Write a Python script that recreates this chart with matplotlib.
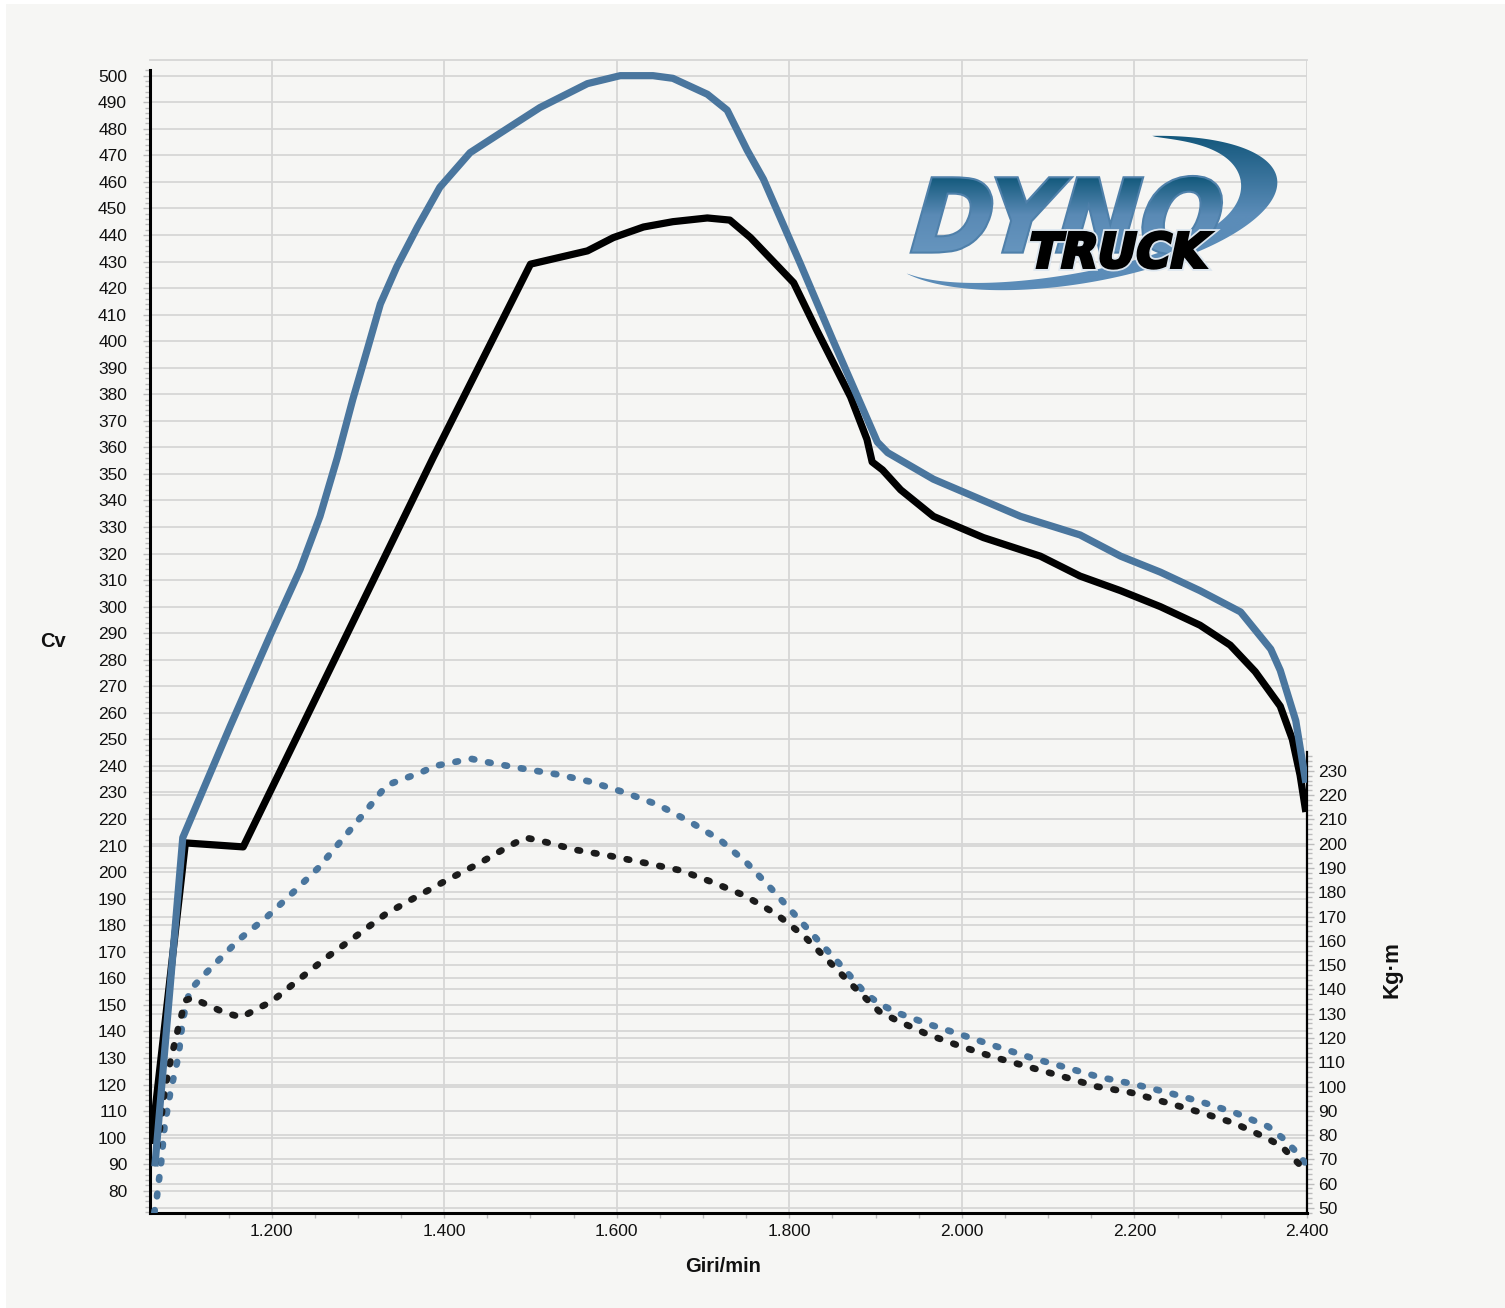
import matplotlib.pyplot as plt
import numpy as np
from matplotlib.patches import Rectangle, Polygon, PathPatch
from matplotlib.textpath import TextPath
from matplotlib.font_manager import FontProperties
from matplotlib.transforms import Affine2D
from matplotlib.ticker import MultipleLocator, FixedLocator
from matplotlib.colors import LinearSegmentedColormap

plt.rcParams['font.family'] = ['Liberation Sans', 'DejaVu Sans']

# Power [Cv] - blue curve
rpm_a = [1065, 1097, 1152, 1198, 1233, 1256, 1276, 1294, 1311, 1326, 1345,
         1369, 1395, 1430, 1468, 1511, 1566, 1604, 1642, 1665, 1705,
         1728, 1751, 1770, 1813, 1851, 1902, 1914, 1967, 2068, 2137,
         2184, 2230, 2276, 2323, 2358, 2369, 2387, 2398]
cv_a = [90.5, 213, 255, 289, 314, 334, 356, 378, 397, 414, 428,
        443, 458, 471, 479, 488, 497, 500, 500, 499, 493,
        487, 472, 461, 429, 400, 362, 358, 348, 334, 327,
        319, 313, 306, 298, 284, 276, 257, 235]

# Power [Cv] - black curve
rpm_b = [1061, 1100, 1167, 1387, 1500, 1566, 1596, 1631, 1665, 1705,
         1731, 1755, 1805, 1832, 1871, 1890, 1896, 1908, 1929, 1967,
         2025, 2091, 2137, 2184, 2230, 2276, 2311, 2340, 2369, 2383,
         2392, 2398]
cv_b = [99, 211, 209.5, 356, 429, 434, 439, 443, 445, 446.4,
        445.6, 439, 422, 404, 379, 363, 354.5, 351.5, 344, 334,
        326, 319, 311.5, 306, 300, 293, 285.5, 275.5, 262.5, 250,
        236.5, 224]

# Torque [Kg·m] - blue dotted
rpm_ta = [1064, 1067, 1072, 1076, 1083, 1092, 1097, 1105, 1119, 1133,
          1162, 1195, 1225, 1254, 1280, 1307, 1333, 1351, 1371, 1389,
          1410, 1431, 1451, 1490, 1532, 1570, 1610, 1648, 1685, 1720,
          1751, 1779, 1807, 1835, 1862, 1889, 1905, 1924, 1963, 2002,
          2040, 2079, 2119, 2158, 2199, 2239, 2279, 2318, 2355, 2371,
          2385, 2398]
kgm_a = [48, 54.5, 69, 84, 98.5, 112.5, 127.5, 139.5, 145, 150,
         160.5, 170, 180, 190, 201, 212.5, 224, 226.5, 229, 232,
         233.5, 235, 233.5, 231, 228.5, 225.5, 221, 216, 209, 201.5,
         192, 181.5, 170.5, 159.5, 149, 138, 134, 130.5, 125.5, 121,
         116.5, 112, 108, 104, 101, 97.5, 93.5, 89, 83.5, 79,
         74, 68.5]

# Torque [Kg·m] - black dotted
rpm_tb = [1065, 1071, 1076, 1083, 1092, 1100, 1108, 1126, 1145, 1165,
          1183, 1200, 1233, 1265, 1298, 1332, 1367, 1403, 1441, 1475,
          1494, 1514, 1552, 1592, 1634, 1674, 1712, 1749, 1785, 1817,
          1846, 1875, 1904, 1923, 1960, 1999, 2038, 2078, 2118, 2156,
          2196, 2236, 2275, 2315, 2352, 2370, 2384, 2398]
kgm_b = [68.5, 84, 98.5, 111, 124.5, 135.5, 136.5, 133.5, 130.5, 128.5,
         132, 135, 144.5, 153.5, 162, 171, 178, 185, 192, 199,
         202.5, 201, 197.5, 195, 192, 189, 184, 178.5, 171, 162,
         151.5, 141, 131, 127.5, 121.5, 116.5, 112, 108, 104, 100,
         97.5, 93.5, 89.5, 85, 79, 75.5, 70.5, 65.5]

x_ticks = [1200, 1400, 1600, 1800, 2000, 2200, 2400]
x_labels = ['1.200', '1.400', '1.600', '1.800', '2.000', '2.200', '2.400']
cv_ticks = list(range(80, 501, 10))
kgm_ticks = list(range(50, 231, 10))

W, H = 1505, 1308
BLUE = '#4a769e'
GRID = '#d6d6d6'
TICK = '#bcbcbc'

fig = plt.figure(figsize=(W / 100, H / 100), dpi=100, facecolor='white')
fig.patches.append(Rectangle((6 / W, 0), 1 - 6 / W, 1 - 4 / H,
                             transform=fig.transFigure, facecolor='#f6f6f4',
                             edgecolor='none', zorder=-1))

ax = fig.add_axes([150 / W, (H - 1213) / H, (1307 - 150) / W, (1213 - 60) / H])
ax2 = ax.twinx()
ax.set_zorder(2)
ax2.set_zorder(1)
ax.patch.set_visible(False)
ax2.patch.set_visible(False)

ax.set_xlim(1059, 2400)
ax.set_ylim(71.6, 505.9)
ax2.set_ylim(47.9, 522.8)

# torque curves on the right scale, but drawn in ax so grids stay below
dots = dict(lw=4.8, ls=(0, (0.4, 2.1)), dash_capstyle='round',
            transform=ax2.transData)
ax.plot(rpm_ta, kgm_a, color=BLUE, zorder=3, **dots)
ax.plot(rpm_tb, kgm_b, color='#1c1c1c', zorder=3.1, **dots)
ax.plot(rpm_b, cv_b, color='black', lw=5.2, solid_joinstyle='round', zorder=4)
ax.plot(rpm_a, cv_a, color=BLUE, lw=5.2, solid_joinstyle='round', zorder=5)

ax.set_xlim(1059, 2400)
ax.set_ylim(71.6, 505.9)

# ticks and grids
ax.set_xticks(x_ticks, x_labels)
ax.xaxis.set_minor_locator(MultipleLocator(50))
ax.set_yticks(cv_ticks)
ax.yaxis.set_minor_locator(FixedLocator(np.arange(72, 503, 2)))
ax.grid(True, which='major', color=GRID, lw=1.3)
ax2.set_yticks(kgm_ticks)
ax2.yaxis.set_minor_locator(FixedLocator(np.arange(48, 238, 2)))
ax2.grid(True, axis='y', which='major', color=GRID, lw=1.3)

ax.tick_params(axis='y', which='major', length=5, width=1, color=TICK,
               labelsize=12.5, pad=11.5, labelcolor='#111111')
ax.tick_params(axis='y', which='minor', length=3.5, width=1, color=TICK)
ax.tick_params(axis='x', which='both', length=3.6, width=1, color=TICK,
               labelsize=12.5, pad=4, labelcolor='#111111')
ax2.tick_params(axis='y', which='major', length=5, width=1, color=TICK,
                labelsize=12.5, pad=3, labelcolor='#111111')
ax2.tick_params(axis='y', which='minor', length=3.5, width=1, color=TICK)

for s in ['left', 'bottom']:
    ax.spines[s].set_color('black')
    ax.spines[s].set_linewidth(2.2)
ax.spines['left'].set_bounds(71.6, 502)
ax.spines['top'].set_color(GRID)
ax.spines['top'].set_linewidth(1.3)
ax.spines['right'].set_color('black')
ax.spines['right'].set_linewidth(1.6)
ax.spines['right'].set_bounds(71.6, 245.2)
for s in ax2.spines.values():
    s.set_visible(False)

fig.text(53 / W, 1 - 641 / H, 'Cv', ha='center', va='center',
         fontsize=14.5, fontweight='bold', color='#111111')
fig.text(723 / W, 1 - 1266 / H, 'Giri/min', ha='center', va='center',
         fontsize=14.5, fontweight='bold', color='#111111')
fig.text(1392 / W, 1 - 970 / H, 'Kg·m', ha='center', va='center',
         rotation=90, fontsize=16, fontweight='bold', color='#111111')

# DYNO TRUCK logo, drawn in pixel coordinates
ov = fig.add_axes([0, 0, 1, 1], zorder=5)
ov.set_axis_off()
ov.patch.set_visible(False)


def word_path(text, x0, x1, ytop, ybot, skew):
    prop = FontProperties(family='DejaVu Sans', weight='bold')
    tp = TextPath((0, 0), text, size=100, prop=prop)
    tp = tp.transformed(Affine2D().skew_deg(skew, 0))
    ext = tp.get_extents()
    tr = (Affine2D().translate(-ext.x0, -ext.y0)
          .scale((x1 - x0) / ext.width, -(ybot - ytop) / ext.height)
          .translate(x0, ybot))
    return tp.transformed(tr)


grad = np.linspace(0, 1, 256).reshape(-1, 1)

# swoosh: crescent between an ellipse and a shrunken copy of it
t = np.radians(np.linspace(205, 425, 240))
a, b = 200, 70
s = (t - t[0]) / (t[-1] - t[0])
wa = 37 * np.sin(np.pi * s ** 1.7) ** 1.2
wb = 13 * np.sin(np.pi * s) ** 0.6
ox, oy = a * np.cos(t), b * np.sin(t)
ix, iy = (a - wa) * np.cos(t), (b - wb) * np.sin(t)
xs = np.concatenate([ox, ix[::-1]])
ys = np.concatenate([oy, iy[::-1]])
rot = np.radians(10)
sx = 1080 + xs * np.cos(rot) - ys * np.sin(rot)
sy = 213 - (xs * np.sin(rot) + ys * np.cos(rot))
swoosh = Polygon(np.column_stack([sx, sy]), closed=True,
                 facecolor='none', edgecolor='none')
ov.add_patch(swoosh)
cm_sw = LinearSegmentedColormap.from_list('sw', ['#0f5478', '#5b8cb8', '#5b8cb8'])
im = ov.imshow(grad, cmap=cm_sw, extent=[900, 1290, 300, 130],
               aspect='auto', interpolation='bilinear', zorder=1)
im.set_clip_path(swoosh)

# DYNO (a solid stroke underneath makes the letters heavier)
dyno_path = word_path('DYNO', 912, 1221, 177, 253, 16)
ov.add_patch(PathPatch(dyno_path, facecolor='#4f80aa', edgecolor='#4f80aa',
                       lw=3, zorder=1.5))
dyno = PathPatch(dyno_path, facecolor='none', edgecolor='none')
ov.add_patch(dyno)
cm_dy = LinearSegmentedColormap.from_list('dy', ['#0d5577', '#5a8ab5', '#6796bf'])
im2 = ov.imshow(grad, cmap=cm_dy, extent=[900, 1235, 256, 174],
                aspect='auto', interpolation='bilinear', zorder=2)
im2.set_clip_path(dyno)

# TRUCK, black with a thin light outline
truck_path = word_path('TRUCK', 1032, 1211, 232, 268, 12)
ov.add_patch(PathPatch(truck_path, facecolor='black', edgecolor='#dce6ef',
                       lw=5, zorder=3))
ov.add_patch(PathPatch(truck_path, facecolor='black', edgecolor='black',
                       lw=2.4, zorder=3.1))

ov.set_xlim(0, W)
ov.set_ylim(H, 0)

fig.savefig('out.png', dpi=100, facecolor=fig.get_facecolor())
